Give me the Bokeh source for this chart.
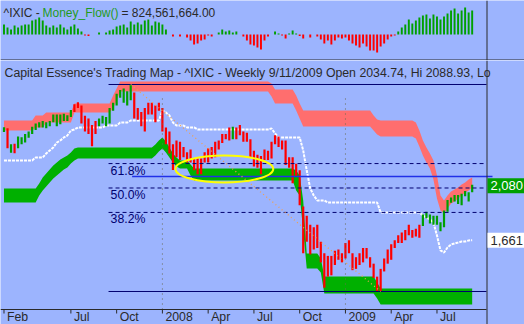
from bokeh.plotting import figure
from bokeh.layouts import column
from bokeh.models import Span, Label, Range1d
from bokeh.embed import file_html
from bokeh.resources import INLINE
from bokeh.core.properties import value

# ---------------- data (weekly, Feb 23 2007 .. Sep 11 2009) ----------------
weeks = list(range(134))

high = [2531, 2525, 2400, 2405, 2460, 2455, 2480, 2500, 2535, 2560,
        2570, 2580, 2570, 2580, 2630, 2630, 2630, 2635, 2625, 2665,
        2710, 2725, 2700, 2620, 2600, 2550, 2580, 2600, 2620, 2610,
        2680, 2720, 2790, 2820, 2830, 2810, 2861, 2800, 2680, 2650,
        2680, 2720, 2720, 2700, 2720, 2680, 2530, 2500, 2400, 2430,
        2420, 2380, 2340, 2360, 2290, 2290, 2290, 2340, 2370, 2380,
        2420, 2430, 2480, 2480, 2530, 2535, 2530, 2550, 2500, 2490,
        2440, 2350, 2320, 2310, 2360, 2350, 2420, 2470, 2460, 2430,
        2430, 2300, 2300, 2250, 2200, 1920, 1850, 1780, 1760, 1780,
        1650, 1560, 1540, 1540, 1580, 1590, 1560, 1640, 1660, 1560,
        1530, 1560, 1600, 1600, 1530, 1480, 1380, 1440, 1520, 1590,
        1630, 1660, 1700, 1720, 1740, 1780, 1740, 1750, 1780, 1860,
        1880, 1860, 1850, 1850, 1800, 1890, 1970, 1990, 2010, 2010,
        2020, 2040, 2030, 2089]

low = [2495, 2370, 2335, 2332, 2370, 2400, 2415, 2450, 2480, 2510,
       2530, 2530, 2525, 2540, 2570, 2540, 2555, 2580, 2580, 2610,
       2650, 2680, 2560, 2500, 2480, 2386, 2480, 2540, 2560, 2540,
       2560, 2660, 2700, 2760, 2720, 2700, 2740, 2600, 2590, 2540,
       2500, 2630, 2630, 2570, 2660, 2500, 2400, 2330, 2202, 2300,
       2280, 2300, 2260, 2260, 2200, 2170, 2170, 2260, 2260, 2290,
       2300, 2360, 2410, 2440, 2430, 2440, 2440, 2470, 2420, 2420,
       2300, 2230, 2220, 2170, 2280, 2280, 2290, 2400, 2380, 2360,
       2240, 2220, 2100, 2150, 1930, 1560, 1650, 1550, 1590, 1600,
       1490, 1295, 1380, 1390, 1470, 1510, 1490, 1520, 1560, 1430,
       1440, 1470, 1490, 1520, 1450, 1370, 1268, 1265, 1420, 1480,
       1510, 1600, 1640, 1640, 1660, 1700, 1680, 1690, 1680, 1770,
       1830, 1790, 1780, 1780, 1730, 1760, 1880, 1950, 1960, 1940,
       1930, 2000, 1960, 2030]

bar_trend = ("GRGRGGGGGG" "GGGGGGGGGG" "RRRRRRRGGG" "GGGGGGGRRR" "RRRRRRRRRR"
             "RRRRRRRRRR" "RRRRRGRRRR" "RRRRRRRRRR" "RRRRRRRRRR" "RRRRRRRRRR"
             "RRRRRRRRRR" "RRRRRRRRRG" "GGGGGGGGGG" "GGGG")

# money flow, millions
money_flow = [344, 241, 172, 309, 241, 309, 344, 344, 481, 515,
              584, 481, 309, 241, 309, 241, 344, 241, 172, 275,
              344, 206, 103, -34, -52, 0, 0, 69, 0, 69,
              137, 172, 275, 309, 344, 241, 447, 344, 412, 344,
              481, 515, 309, 447, 412, 344, 172, 0, -69, 0,
              -69, 0, -103, -206, -344, -309, -206, -172, -34, -69,
              0, 69, 172, 103, 137, 69, 103, 0, -69, -206,
              -344, -378, -447, -515, -206, -69, 0, 103, 34, -34,
              -137, 34, 137, 34, -52, -137, 0, -103, 0, -69,
              -172, -309, -206, -344, -206, -103, -137, -103, -206, -309,
              -378, -447, -309, -412, -550, -550, -618, -412, -309, -172,
              -69, -34, 103, 241, 344, 515, 378, 481, 584, 653,
              687, 550, 687, 618, 515, 618, 722, 825, 893, 722,
              825, 928, 756, 825]

red_top = [2584, 2584, 2584, 2584, 2584, 2584, 2584, 2584, 2584, 2622,
           2622, 2622, 2646, 2646, 2646, 2646, 2646, 2646, 2646, 2646,
           2715, 2715, 2715, 2715, 2715, 2715, 2715, 2715, 2715, 2715,
           2715, 2777, 2831, 2884, 2884, 2884, 2884, 2884, 2884, 2884,
           2884, 2884, 2884, 2884, 2884, 2884, 2884, 2884, 2884, 2884,
           2884, 2884, 2884, 2884, 2884, 2884, 2884, 2884, 2884, 2884,
           2884, 2884, 2884, 2884, 2884, 2884, 2884, 2884, 2884, 2884,
           2884, 2884, 2884, 2884, 2884, 2884, 2869, 2823, 2823, 2823,
           2823, 2823, 2823, 2777, 2715, 2661, 2661, 2661, 2661, 2661,
           2661, 2661, 2661, 2661, 2661, 2661, 2661, 2661, 2661, 2661,
           2661, 2661, 2661, 2661, 2661, 2622, 2592, 2584, 2584, 2584,
           2584, 2584, 2584, 2584, 2584, 2584, 2584, 2568, 2507, 2430,
           2376, 2330, 2276, 2160, 2006, 1967, 2006, 2036, 2052, 2067,
           2090, 2106, 2129, 2144]

red_bot = [2507, 2507, 2507, 2507, 2507, 2507, 2507, 2507, 2507, 2530,
           2530, 2530, 2568, 2568, 2568, 2568, 2568, 2568, 2568, 2568,
           2646, 2646, 2646, 2646, 2646, 2646, 2646, 2646, 2646, 2646,
           2646, 2676, 2738, 2808, 2808, 2808, 2808, 2808, 2808, 2808,
           2808, 2808, 2808, 2808, 2808, 2808, 2808, 2808, 2808, 2808,
           2808, 2808, 2808, 2808, 2808, 2808, 2808, 2808, 2808, 2808,
           2808, 2808, 2808, 2808, 2808, 2808, 2808, 2808, 2808, 2808,
           2808, 2808, 2808, 2808, 2808, 2808, 2769, 2715, 2715, 2715,
           2715, 2715, 2715, 2661, 2599, 2538, 2538, 2538, 2538, 2538,
           2538, 2538, 2538, 2538, 2538, 2538, 2538, 2538, 2538, 2538,
           2538, 2538, 2538, 2538, 2538, 2507, 2476, 2461, 2461, 2461,
           2461, 2461, 2461, 2461, 2461, 2461, 2461, 2445, 2384, 2314,
           2260, 2214, 2129, 1982, 1890, 1867, 1905, 1944, 1959, 1982,
           2006, 2029, 2044, 2067]

green_top = [2060, 2060, 2060, 2060, 2060, 2060, 2060, 2060, 2060, 2060,
             2098, 2144, 2175, 2206, 2237, 2260, 2283, 2299, 2314, 2337,
             2368, 2376, 2376, 2376, 2376, 2376, 2376, 2376, 2376, 2376,
             2376, 2376, 2376, 2376, 2376, 2376, 2376, 2376, 2376, 2376,
             2376, 2376, 2376, 2399, 2430, 2453, 2422, 2376, 2330, 2299,
             2276, 2276, 2276, 2245, 2214, 2214, 2214, 2214, 2214, 2214,
             2214, 2214, 2214, 2214, 2214, 2214, 2214, 2214, 2214, 2214,
             2214, 2214, 2214, 2214, 2214, 2214, 2214, 2214, 2214, 2214,
             2214, 2214, 2214, 2198, 2160, 1967, 1558, 1558, 1558, 1558,
             1520, 1381, 1381, 1381, 1381, 1381, 1381, 1381, 1381, 1381,
             1381, 1381, 1381, 1381, 1381, 1381, 1335, 1289, 1289, 1289,
             1289, 1289, 1289, 1289, 1289, 1289, 1289, 1289, 1289, 1289,
             1289, 1289, 1289, 1289, 1289, 1289, 1289, 1289, 1289, 1289,
             1289, 1289, 1289, 1289]

green_bot = [1952, 1952, 1952, 1952, 1952, 1952, 1952, 1952, 1952, 1952,
             2006, 2044, 2075, 2106, 2137, 2160, 2183, 2206, 2222, 2252,
             2276, 2291, 2291, 2291, 2291, 2291, 2291, 2291, 2291, 2291,
             2291, 2291, 2291, 2291, 2291, 2291, 2291, 2291, 2291, 2291,
             2291, 2291, 2291, 2314, 2345, 2368, 2337, 2299, 2260, 2229,
             2214, 2214, 2214, 2160, 2121, 2121, 2121, 2121, 2121, 2121,
             2121, 2121, 2121, 2121, 2121, 2121, 2121, 2121, 2121, 2121,
             2121, 2121, 2121, 2121, 2121, 2121, 2121, 2121, 2121, 2121,
             2121, 2121, 2121, 2044, 2006, 1736, 1443, 1443, 1443, 1443,
             1412, 1250, 1250, 1250, 1250, 1250, 1250, 1250, 1250, 1250,
             1250, 1250, 1250, 1250, 1250, 1250, 1212, 1165, 1165, 1165,
             1165, 1165, 1165, 1165, 1165, 1165, 1165, 1165, 1165, 1165,
             1165, 1165, 1165, 1165, 1165, 1165, 1165, 1165, 1165, 1165,
             1165, 1165, 1165, 1165]

trail_line = [2276, 2276, 2276, 2276, 2276, 2276, 2276, 2276, 2276, 2299,
              2299, 2299, 2330, 2353, 2376, 2414, 2430, 2453, 2468, 2507,
              2515, 2530, 2530, 2530, 2530, 2530, 2530, 2530, 2530, 2545,
              2545, 2545, 2545, 2568, 2568, 2568, 2584, 2584, 2584, 2584,
              2584, 2584, 2584, 2584, 2584, 2661, 2646, 2622, 2568, 2545,
              2545, 2545, 2530, 2530, 2530, 2515, 2515, 2515, 2515, 2515,
              2515, 2515, 2515, 2515, 2515, 2515, 2515, 2515, 2515, 2515,
              2515, 2515, 2515, 2515, 2515, 2515, 2522, 2484, 2453, 2453,
              2453, 2453, 2453, 2453, 2453, 2353, 2198, 2060, 2006, 1967,
              1967, 1967, 1952, 1952, 1952, 1952, 1952, 1952, 1952, 1952,
              1952, 1952, 1952, 1952, 1952, 1952, 1952, 1875, 1875, 1875,
              1875, 1875, 1875, 1875, 1875, 1875, 1875, 1875, 1875, 1851,
              1836, 1821, 1797, 1697, 1582, 1566, 1605, 1628, 1636, 1643,
              1651, 1651, 1659, 1661]

tick_weeks = [0, 19, 32, 45, 58, 71, 84, 97, 110, 123]
tick_labels = ["Feb", "Jul", "Oct", "2008", "Apr", "Jul", "Oct", "2009", "Apr", "Jul"]
year_weeks = [45, 97]

swing_high = 2861.5
swing_low = 1265.5
swing_start = 29.7
fib_ratios = [0.618, 0.5, 0.382]
fib_labels = ["61.8%", "50.0%", "38.2%"]
support_level = 2152
support_start = 36.4
trend_x = [36, 107]
trend_y = [2861.5, 1265.5]
zone_x, zone_y, zone_w, zone_h = 62.6, 2210, 27.8, 208
last_close = 2080.35
last_trail = 1661.0
mf_last = "824,561,664.00"
title = "Capital Essence's Trading Map - ^IXIC - Weekly 9/11/2009 Open 2034.74, Hi 2088.93, Lo"

# ---------------- style / layout ----------------
BG = "#9cb4fe"
RED = "#ff0000"
GREEN = "#00a000"
BAND_RED = "#ff6e6e"
BAND_GREEN = "#00b000"
NAVY = "#000070"
DARK = "#2a2a2a"
FONT = "Liberation Sans"
FS = "12.3px"

WPX = 138.064 / 486.0          # weeks per pixel
XR = Range1d(-0.994, -0.994 + 524 * WPX)
PANEL_END = -0.994 + 486 * WPX  # right edge of the chart panels
VLINE_X = -0.994 + 486.5 * WPX

PRICE_TOP = 3046.5
AXIS_Y = 1126.7                 # price at the time-axis line
PPX = (PRICE_TOP - AXIS_Y) / 249.0

common = dict(width=524, x_range=XR, x_axis_type=None, y_axis_type=None,
              toolbar_location=None, output_backend="svg",
              min_border_left=0, min_border_right=0, min_border_top=0, min_border_bottom=0,
              background_fill_color=BG, border_fill_color=BG, outline_line_color=None)

# ---------------- top panel: money flow ----------------
top = figure(height=60, y_range=Range1d(-893, 1168), **common)
mf_colors = [GREEN if v >= 0 else RED for v in money_flow]
top.vbar(x=weeks, top=money_flow, bottom=0, width=0.55, fill_color=mf_colors, line_color=None)
top.add_layout(Span(location=-876, dimension="width", line_color=DARK, line_width=1))
top.add_layout(Span(location=VLINE_X, dimension="height", line_color=DARK, line_width=1))
for tx, txt, col in [(3, "^IXIC -", DARK), (42, "Money_Flow()", "#1f9a1f"), (121, "= " + mf_last, DARK)]:
    top.add_layout(Label(x=tx, y=48, x_units="screen", y_units="screen", text=txt,
                         text_color=col, text_font=FONT, text_font_size="12px",
                         text_baseline="alphabetic", text_align="left"))

# ---------------- main panel ----------------
main = figure(height=264, y_range=Range1d(AXIS_Y - 15 * PPX, PRICE_TOP), **common)

main.varea(x=weeks, y1=red_bot, y2=red_top, fill_color=BAND_RED)
main.varea(x=weeks, y1=green_bot, y2=green_top, fill_color=BAND_GREEN)
main.line(weeks, trail_line, line_color="white", line_width=2, line_dash="3 1")

bar_colors = [GREEN if c == "G" else RED for c in bar_trend]
main.segment(x0=weeks, x1=weeks, y0=low, y1=high, line_color=bar_colors, line_width=2.2)

levels = [swing_low + r * (swing_high - swing_low) for r in fib_ratios]
main.segment(x0=swing_start, x1=PANEL_END, y0=[swing_high, swing_low], y1=[swing_high, swing_low],
             line_color=NAVY, line_width=1)
main.segment(x0=swing_start, x1=PANEL_END, y0=levels, y1=levels, line_color=NAVY,
             line_width=1, line_dash="4 3")
main.text(x=swing_start, y=levels, text=fib_labels, x_offset=2, y_offset=7,
          text_baseline="middle", text_align="left", text_font=value(FONT),
          text_font_size=FS, text_color=NAVY)
main.segment(x0=support_start, x1=PANEL_END + 6 * WPX, y0=support_level, y1=support_level,
             line_color="#2030e8", line_width=1.5)
main.segment(x0=year_weeks, x1=year_weeks, y0=AXIS_Y, y1=2777, line_color="#6a6a50",
             line_width=1, line_dash="1 4")
main.line(trend_x, trend_y, line_color="#f0a050", line_width=1.3, line_dash="1 3")
main.ellipse(x=[zone_x], y=[zone_y], width=[zone_w], height=[zone_h], fill_color=None,
             line_color="#ffff00", line_width=2)

main.text(x=XR.start, y=PRICE_TOP, text=[title], x_offset=4, y_offset=12,
          text_baseline="alphabetic", text_align="left", text_font=value(FONT),
          text_font_size=FS, text_color=DARK)

# time axis: line, ticks and left-aligned month labels
main.segment(x0=XR.start, x1=PANEL_END, y0=AXIS_Y, y1=AXIS_Y, line_color=DARK, line_width=1)
main.segment(x0=tick_weeks, x1=tick_weeks, y0=AXIS_Y, y1=AXIS_Y - 4 * PPX,
             line_color=DARK, line_width=1)
main.text(x=tick_weeks, y=AXIS_Y, text=tick_labels, x_offset=3, y_offset=7,
          text_baseline="middle", text_align="left", text_font=value(FONT),
          text_font_size=FS, text_color=DARK)

main.add_layout(Span(location=VLINE_X, dimension="height", line_color=DARK, line_width=1))

main.add_layout(Label(x=487, y=last_close, x_units="screen", y_units="data",
                      text=f"{last_close:,.0f}", text_color="white", text_font=FONT,
                      text_font_size="13px", text_baseline="middle", text_align="left",
                      background_fill_color=GREEN, padding=3))
main.add_layout(Label(x=487, y=last_trail, x_units="screen", y_units="data",
                      text=f"{last_trail:,.0f}", text_color=DARK, text_font=FONT,
                      text_font_size="13px", text_baseline="middle", text_align="left",
                      background_fill_color="white", padding=3))

layout = column(top, main, spacing=0)
open("out.html", "w").write(file_html(layout, INLINE))
